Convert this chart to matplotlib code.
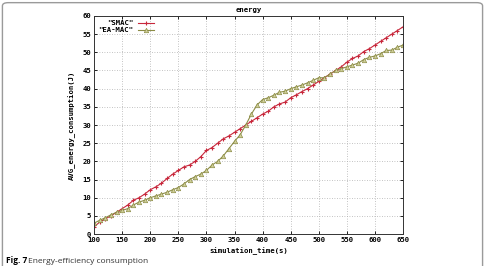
import matplotlib.pyplot as plt
from matplotlib.patches import FancyBboxPatch
import numpy as np

sim_time = list(range(100, 651, 10))
smac = [2.0, 3.3, 4.2, 5.0, 6.0, 7.0, 8.0, 9.3, 10.0, 11.0,
        12.2, 13.0, 14.0, 15.3, 16.5, 17.5, 18.5, 19.0, 20.0, 21.3,
        23.0, 23.8, 25.0, 26.2, 27.0, 28.0, 29.0, 30.0, 31.0, 32.0,
        33.0, 33.8, 35.0, 35.8, 36.3, 37.5, 38.3, 39.2, 40.0, 41.0,
        42.0, 43.0, 44.0, 45.0, 46.0, 47.3, 48.3, 49.0, 50.2, 51.0,
        52.0, 53.0, 54.0, 55.0, 56.0, 57.0]
ea_mac = [3.0, 3.8, 4.5, 5.3, 6.0, 6.5, 7.0, 8.0, 8.8, 9.3,
          10.0, 10.5, 11.0, 11.5, 12.2, 12.8, 13.8, 15.0, 15.8, 16.5,
          17.5, 19.0, 20.0, 21.5, 23.5, 25.5, 27.3, 30.0, 33.0, 35.5,
          37.0, 37.5, 38.2, 39.0, 39.3, 40.0, 40.5, 41.0, 41.6, 42.3,
          43.0, 43.0, 44.0, 45.0, 45.5, 46.0, 46.5, 47.0, 48.0, 48.6,
          49.0, 49.6, 50.5, 50.6, 51.4, 52.0]
x_ticks = list(range(100, 651, 50))
y_ticks = list(range(0, 61, 5))

mono = {'family': 'DejaVu Sans Mono', 'weight': 'bold', 'size': 5.2}

fig = plt.figure(figsize=(4.85, 2.66), dpi=100, facecolor='white')

# page frame around the figure
frame = FancyBboxPatch((0.005, -0.05), 0.99, 1.04, transform=fig.transFigure,
                       boxstyle='round,pad=0,rounding_size=0.012',
                       facecolor='none', edgecolor='#9a9a9a', linewidth=1.0)
fig.patches.append(frame)

ax = fig.add_axes([0.194, 0.12, 0.637, 0.82])
ax.plot(sim_time, smac, color='#c8283c', linewidth=0.8, marker='+',
        markersize=3.5, markeredgewidth=0.8, label='"SMAC"')
ax.plot(sim_time, ea_mac, color='#8c8c46', linewidth=0.8, marker='^',
        markersize=3.2, markeredgewidth=0.5, markerfacecolor='#cfcf98',
        markeredgecolor='#8c8c46', label='"EA-MAC"')

ax.set_xlim(100, 650)
ax.set_ylim(0, 60)
ax.set_xticks(x_ticks)
ax.set_yticks(y_ticks)
ax.grid(True, linestyle=(0, (1, 2)), color='#b0b0b0', linewidth=0.6)
ax.tick_params(direction='in', length=2.5, width=0.6, top=True, right=True,
               pad=2, labelsize=5.2)
for lab in ax.get_xticklabels() + ax.get_yticklabels():
    lab.set_fontproperties(mono)
for s in ax.spines.values():
    s.set_linewidth(0.7)
    s.set_color('#333333')

ax.set_title('energy', fontdict=mono, pad=3)
ax.set_xlabel('simulation_time(s)', fontdict=mono, labelpad=3)
ax.set_ylabel('AVG_energy_consumption(J)', fontdict=mono, labelpad=5)

leg = ax.legend(loc='upper left', markerfirst=False, frameon=False,
                prop=mono, handlelength=2.2, borderaxespad=0.2,
                labelspacing=0.1, handletextpad=0.6)
for t in leg.get_texts():
    t.set_ha('right')

# caption at the bottom edge of the page screenshot
fig.text(0.012, 0.004, 'Fig. 7', fontsize=6, fontweight='bold',
         family='Open Sans', va='bottom')
fig.text(0.058, 0.004, 'Energy-efficiency consumption', fontsize=6,
         family='Open Sans', va='bottom', color='#333333')

fig.savefig('out.png', dpi=100)
